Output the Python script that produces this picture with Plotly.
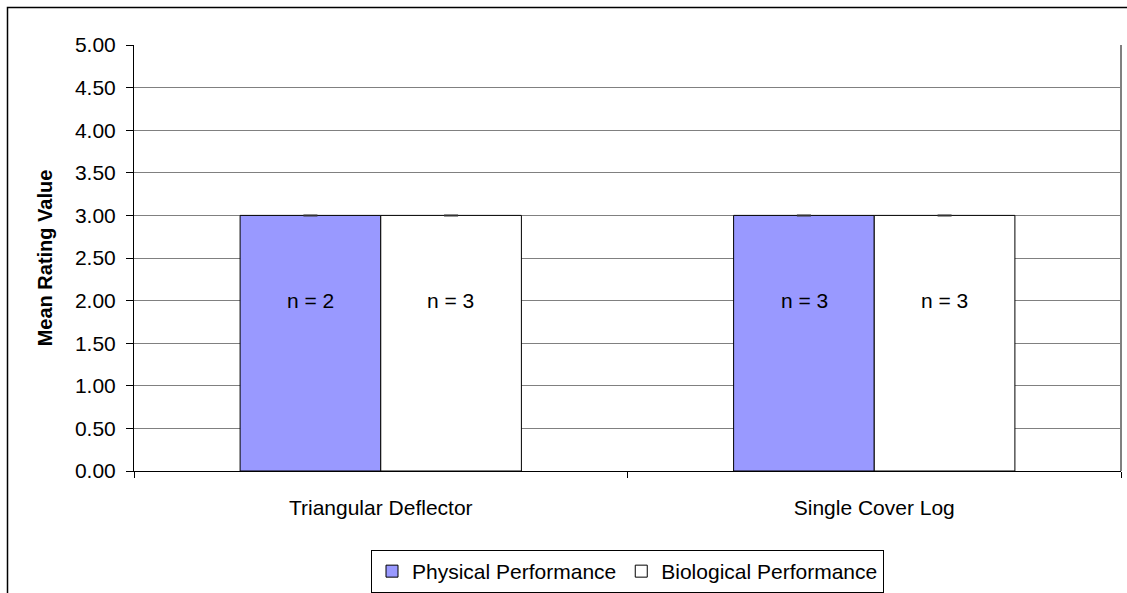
import plotly.graph_objects as go

categories = ["Triangular Deflector", "Single Cover Log"]
physical = [3.0, 3.0]
biological = [3.0, 3.0]
physical_n = ["n = 2", "n = 3"]
biological_n = ["n = 3", "n = 3"]
tick_vals = [0, 0.5, 1, 1.5, 2, 2.5, 3, 3.5, 4, 4.5, 5]
tick_text = ["0.00", "0.50", "1.00", "1.50", "2.00", "2.50", "3.00", "3.50", "4.00", "4.50", "5.00"]
label_y = 2.0

FONT = "Liberation Sans, Arial, sans-serif"
FS = 21
W, H = 1127, 593
ML, MR, MT, MB = 134, 6, 45, 122
pw, ph = W - ML - MR, H - MT - MB

fig = go.Figure()
fig.add_trace(go.Bar(
    name="Physical Performance", x=categories, y=physical,
    marker=dict(color="#9999FF", line=dict(color="#000000", width=1)),
    error_y=dict(type="data", array=[0, 0], color="#333333", thickness=2, width=7),
))
fig.add_trace(go.Bar(
    name="Biological Performance", x=categories, y=biological,
    marker=dict(color="#FFFFFF", line=dict(color="#000000", width=1)),
    error_y=dict(type="data", array=[0, 0], color="#333333", thickness=2, width=7),
))

# n labels
for i, c in enumerate(categories):
    fig.add_annotation(x=c, y=label_y, text=physical_n[i], showarrow=False,
                       xshift=-70, font=dict(family=FONT, size=FS, color="black"))
    fig.add_annotation(x=c, y=label_y, text=biological_n[i], showarrow=False,
                       xshift=70, font=dict(family=FONT, size=FS, color="black"))


def px_to_paper_x(px):
    return (px - ML) / pw


def px_to_paper_y(py):
    return (H - MB - py) / ph


# outer chart border
fig.add_shape(type="rect", xref="paper", yref="paper",
              x0=px_to_paper_x(7.5), x1=px_to_paper_x(1140),
              y0=px_to_paper_y(610), y1=px_to_paper_y(7.5),
              line=dict(color="black", width=1.5), fillcolor="rgba(0,0,0,0)", layer="below")
# right plot border (gray)
fig.add_shape(type="line", xref="paper", yref="paper", x0=1, x1=1, y0=0, y1=1,
              line=dict(color="#808080", width=2))

fig.update_layout(
    width=W, height=H,
    margin=dict(l=ML, r=MR, t=MT, b=MB, autoexpand=False),
    paper_bgcolor="white", plot_bgcolor="white",
    barmode="group", bargap=0.43, bargroupgap=0,
    font=dict(family=FONT, size=FS, color="black"),
    showlegend=True,
    legend=dict(orientation="h", x=0.5, xanchor="center",
                y=px_to_paper_y(550), yanchor="top",
                bordercolor="black", borderwidth=1,
                font=dict(family=FONT, size=FS, color="black"),
                itemwidth=30, traceorder="normal"),
    xaxis=dict(showgrid=False, showline=True, linecolor="black", linewidth=1,
               ticks="outside", ticklen=6, tickcolor="black", tickson="boundaries",
               automargin=False,
               tickfont=dict(family=FONT, size=FS, color="black"), ticklabelstandoff=18),
    yaxis=dict(range=[0, 5], tickvals=tick_vals, ticktext=tick_text,
               showgrid=True, gridcolor="#808080", gridwidth=1,
               showline=True, linecolor="black", linewidth=1,
               ticks="outside", ticklen=7, tickcolor="black",
               zeroline=False, ticklabelstandoff=6, automargin=False,
               tickfont=dict(family=FONT, size=FS, color="black"),
               title=dict(text="<b>Mean Rating Value</b>", standoff=16,
                          font=dict(family=FONT, size=FS - 1, color="black"))),
)

fig.write_html(
    "out.html",
    config={"displayModeBar": False},
    post_script="document.body.style.margin='0';document.body.style.overflow='hidden';"
                "document.documentElement.style.overflow='hidden';",
)
